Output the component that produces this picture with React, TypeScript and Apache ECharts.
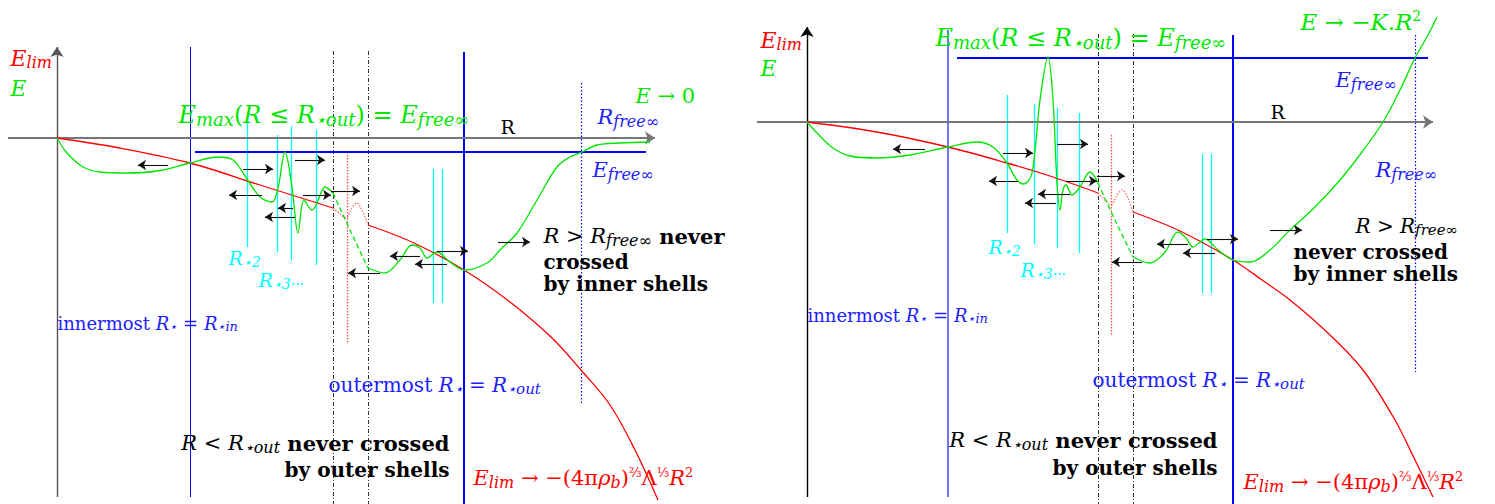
import React, { useEffect, useRef } from "react";
import * as echarts from "echarts";

// ---------- data (R, E units of the sketch; panel 0 = left, panel 1 = right) ----------
// Left panel
const L_RED_A = [[0, 0], [63, -10], [133, -25], [203, -47], [276, -70]];
const L_RED_DOT = [[276, -70], [283, -76], [289, -80], [295, -70], [300, -65], [305, -72], [311, -87]];
const L_RED_B = [[311, -87], [357, -105], [407, -132], [453, -164], [495, -200], [524, -232], [553, -267], [578, -312], [601, -362]];
const L_GREEN_A = [[0, 0], [10, -15], [26, -29], [43, -34], [70, -35], [100, -33], [133, -25], [161, -19], [176, -22], [190, -41], [203, -59], [215, -64], [221, -50], [228, -14], [235, -49], [241, -95], [247, -62], [255, -72], [260, -65], [268, -49], [276, -55]];
const L_GREEN_DASH = [[276, -55], [293, -92], [311, -130]];
const L_GREEN_B = [[311, -130], [328, -135], [343, -122], [355, -107], [363, -110], [370, -120], [380, -114], [393, -124], [407, -132], [430, -125], [443, -112], [460, -95], [480, -62], [500, -29], [513, -19], [525, -14], [540, -7], [563, -5], [593, -4]];
const L_CYAN = [[190, 18, -109], [220, 3, -114], [234, 12, -122], [259, 8, -127], [376, -31, -165], [385, -31, -165]];
const L_ARROWS = [[111, 81, -27], [186, 216, -31], [238, 268, -22], [205, 172, -57], [246, 274, -57], [274, 303, -53], [236, 221, -70], [238, 208, -79], [323, 291, -135], [363, 333, -118], [380, 411, -113], [390, 358, -126], [441, 473, -104]];
const L_R_IN = 133, L_R_OUT = 407, L_R_FREE = 524, L_E_FREE = -14;
const L_DASHDOT = [276, 311];
const L_RED_VDOT = 290;

// Right panel
const R_RED_A = [[0, 0], [70, -10], [141, -25], [200, -41], [243, -54], [291, -71]];
const R_RED_DOT = [[291, -71], [298, -78], [304, -83], [310, -73], [315, -68], [321, -76], [326, -90]];
const R_RED_B = [[326, -90], [373, -109], [426, -138], [455, -158], [483, -178], [523, -213], [556, -248], [588, -298], [608, -338], [626, -375]];
const R_GREEN_A = [[0, 0], [10, -11], [26, -26], [43, -34], [70, -36], [103, -33], [141, -25], [170, -20], [186, -25], [200, -41], [210, -58], [217, -62], [225, -51], [233, 22], [241, 65], [246, 22], [250, -61], [253, -88], [256, -68], [259, -63], [265, -73], [273, -65], [283, -50], [291, -61]];
const R_GREEN_DASH = [[291, -61], [308, -98], [326, -135]];
const R_GREEN_B = [[326, -135], [343, -141], [358, -130], [371, -110], [379, -116], [386, -125], [398, -117], [411, -128], [426, -138], [443, -140], [463, -128], [483, -108], [508, -85], [533, -58], [555, -30], [576, 0], [593, 32], [608, 64], [621, 87], [630, 105]];
const R_CYAN = [[200, 27, -111], [227, 18, -122], [250, 14, -126], [272, 9, -131], [395, -32, -171], [404, -32, -171]];
const R_ARROWS = [[118, 86, -27], [196, 226, -31], [250, 281, -22], [211, 182, -59], [259, 290, -59], [290, 318, -54], [263, 231, -72], [249, 218, -81], [335, 305, -140], [381, 350, -122], [400, 431, -117], [408, 376, -131], [463, 495, -108]];
const R_R_IN = 141, R_R_OUT = 426, R_R_FREE = 608, R_E_FREE = 64;
const R_DASHDOT = [291, 326];
const R_RED_VDOT = 304;

// ---------- texts ----------
const T_ELIM = "{m|E}{s|lim}";
const T_E = "{m|E}";
const T_EMAX = "{m|E}{s|max}{r|(}{m|R}{r| ≤ }{m|R}{s|⋆out}{r|) = }{m|E}{s|free∞}";
const T_RFREE = "{m|R}{s|free∞}";
const T_EFREE = "{m|E}{s|free∞}";
const T_R2 = "{m|R}{s|⋆2}";
const T_R3 = "{m|R}{s|⋆3···}";
const T_INNER = "{r|innermost }{m|R}{s|⋆}{r| = }{m|R}{s|⋆in}";
const T_OUTER = "{r|outermost }{m|R}{s|⋆}{r| = }{m|R}{s|⋆out}";
const T_RLT = "{m|R}{r| < }{m|R}{s|⋆out}{bf| never crossed}";
const T_BYOUT = "{bf|by outer shells}";
const T_ELIMF = "{m|E}{s|lim}{r| → −(4π}{m|ρ}{s|b}{r|)}{p|⅔}{r|Λ}{p|⅓}{m|R}{p|2}";

const RED = "#ff0000", GREEN = "#00e600", BLUE = "#0000ff", TBLUE = "#2020ff", LBLUE = "#7373ff", CYAN = "#00ffff", GRAY = "#777777";

// [panel, R, E, text, color, anchor, font size]
const TEXTS: [number, number, number, string, string, string, number][] = [
  [0, -47, 80, T_ELIM, RED, "l", 22],
  [0, -47, 50, T_E, GREEN, "l", 22],
  [0, 121, 23, T_EMAX, GREEN, "l", 24],
  [0, 578, 42, "{m|E}{r| → 0}", GREEN, "l", 21],
  [0, 540, 21, T_RFREE, TBLUE, "l", 21],
  [0, 535, -32, T_EFREE, TBLUE, "l", 21],
  [0, 443, 11, "{r|R}", "#000", "l", 19],
  [0, 171, -120, T_R2, CYAN, "l", 19],
  [0, 201, -142, T_R3, CYAN, "l", 19],
  [0, 0, -185, T_INNER, TBLUE, "l", 18],
  [0, 486, -98, "{m|R}{r| > }{m|R}{s|free∞}{bf| never}", "#000", "l", 21],
  [0, 486, -124, "{bf|crossed}", "#000", "l", 20],
  [0, 486, -146, "{bf|by inner shells}", "#000", "l", 20],
  [0, 271, -247, T_OUTER, TBLUE, "l", 20],
  [0, 393, -305, T_RLT, "#000", "r", 21],
  [0, 393, -332, T_BYOUT, "#000", "r", 20],
  [0, 416, -340, T_ELIMF, RED, "l", 21],
  [1, -47, 82, T_ELIM, RED, "l", 22],
  [1, -47, 54, T_E, GREEN, "l", 22],
  [1, 128, 84, T_EMAX, GREEN, "l", 24],
  [1, 493, 100, "{m|E}{r| → −}{m|K.R}{p|2}", GREEN, "l", 23],
  [1, 528, 42, T_EFREE, TBLUE, "l", 21],
  [1, 568, -48, T_RFREE, TBLUE, "l", 21],
  [1, 463, 10, "{r|R}", "#000", "l", 19],
  [1, 181, -125, T_R2, CYAN, "l", 19],
  [1, 213, -148, T_R3, CYAN, "l", 19],
  [1, 0, -193, T_INNER, TBLUE, "l", 18],
  [1, 548, -104, "{m|R}{r| > }{m|R}{s|free∞}", "#000", "l", 20],
  [1, 486, -130, "{bf|never crossed}", "#000", "l", 20],
  [1, 486, -152, "{bf|by inner shells}", "#000", "l", 20],
  [1, 285, -258, T_OUTER, TBLUE, "l", 20],
  [1, 411, -318, T_RLT, "#000", "r", 21],
  [1, 411, -346, T_BYOUT, "#000", "r", 20],
  [1, 436, -360, T_ELIMF, RED, "l", 21],
];

const SERIF = "'DejaVu Serif', 'Liberation Serif', serif";
function rich(color: string, fs: number) {
  const lh = Math.round(fs * 1.12);
  const sub = Math.round(fs * 0.74);
  const sup = Math.round(fs * 0.6);
  return {
    m: { fontFamily: SERIF, fontStyle: "italic", fontSize: fs, lineHeight: lh, color },
    r: { fontFamily: SERIF, fontSize: fs, lineHeight: lh, color },
    bf: { fontFamily: SERIF, fontWeight: "bold", fontSize: fs, lineHeight: lh, color },
    s: { fontFamily: SERIF, fontStyle: "italic", fontSize: sub, lineHeight: sub, verticalAlign: "bottom", color },
    p: { fontFamily: SERIF, fontSize: sup, lineHeight: sup, verticalAlign: "top", color },
  };
}

function curve(panel: number, data: number[][], color: string, type: any = "solid", width = 1.3, opacity = 1) {
  return {
    type: "line", xAxisIndex: panel, yAxisIndex: panel, data, showSymbol: false, symbol: "none",
    smooth: 0.35, silent: true, lineStyle: { color, width, type, opacity }, z: 3,
  };
}

function buildPanel(p: number, cfg: any) {
  const segs: any[] = [];
  const v = (r: number, a: number, b: number, ls: any) => segs.push({ coords: [[r, a], [r, b]], lineStyle: { opacity: 1, ...ls } });
  cfg.cyan.forEach(([r, a, b]: number[]) => v(r, a, b, { color: CYAN, width: 1.3 }));
  cfg.dashdot.forEach((r: number) => v(r, cfg.top - 4, cfg.bottom, { color: "#000", width: 0.8, type: [4, 2, 1, 2] }));
  v(cfg.redV, cfg.redVtop, cfg.redVbot, { color: RED, width: 1.3, type: [1.5, 1.5], opacity: 0.7 });
  v(cfg.rin, cfg.top, cfg.bottom + 7, cfg.inStyle);
  v(cfg.rout, cfg.top - 5, cfg.bottom, { color: BLUE, width: 2 });
  v(cfg.rfree, cfg.freeTop, cfg.freeBot, { color: BLUE, width: 1.2, type: [1.5, 2] });
  segs.push({ coords: [[cfg.hStart, cfg.efree], [cfg.hEnd, cfg.efree]], lineStyle: { color: BLUE, width: 2.2, opacity: 1 } });

  const arrows = cfg.arrows.map(([a, b, e]: number[]) => ({ coords: [[a, e], [b, e]] }));
  const axes = [
    { coords: [[0, cfg.bottom + 7], [0, cfg.yTop]], lineStyle: { color: cfg.yColor, width: 1.4, opacity: 1 } },
    { coords: [[cfg.xStart, 0], [cfg.xEnd, 0]], lineStyle: { color: GRAY, width: 2, opacity: 1 } },
  ];
  const labels = TEXTS.filter((t) => t[0] === p).map(([, r, e, txt, color, anchor, fs]) => ({
    value: [r, e],
    label: {
      show: true, position: anchor === "l" ? "right" : "left", distance: 0,
      formatter: () => txt, rich: rich(color, fs), color, opacity: 1,
    },
  }));
  return [
    { type: "lines", coordinateSystem: "cartesian2d", xAxisIndex: p, yAxisIndex: p, data: segs, symbol: "none", silent: true, z: 2 },
    { type: "lines", coordinateSystem: "cartesian2d", xAxisIndex: p, yAxisIndex: p, data: axes, symbol: ["none", "arrow"], symbolSize: 10, silent: true, z: 2 },
    { type: "lines", coordinateSystem: "cartesian2d", xAxisIndex: p, yAxisIndex: p, data: arrows, symbol: ["none", "arrow"], symbolSize: 8, lineStyle: { color: "#111", width: 1.1, opacity: 1 }, silent: true, z: 4 },
    curve(p, cfg.redA, RED), curve(p, cfg.redB, RED),
    curve(p, cfg.redDot, RED, [1.5, 1.5], 1.2, 0.6),
    curve(p, cfg.greenA, GREEN), curve(p, cfg.greenDash, GREEN, [5, 3]), curve(p, cfg.greenB, GREEN),
    { type: "scatter", xAxisIndex: p, yAxisIndex: p, data: labels, symbolSize: 1, itemStyle: { color: "rgba(0,0,0,0)", opacity: 1 }, silent: true, z: 5 },
  ];
}

const LEFT = {
  cyan: L_CYAN, dashdot: L_DASHDOT, redV: L_RED_VDOT, redVtop: -14, redVbot: -205, rin: L_R_IN, rout: L_R_OUT,
  rfree: L_R_FREE, freeTop: 55, freeBot: -267, efree: L_E_FREE, hStart: 138, hEnd: 589, top: 91, bottom: -366,
  inStyle: { color: BLUE, width: 1 }, arrows: L_ARROWS, yTop: 91, yColor: "#555", xStart: -49, xEnd: 598,
  redA: L_RED_A, redB: L_RED_B, redDot: L_RED_DOT, greenA: L_GREEN_A, greenDash: L_GREEN_DASH, greenB: L_GREEN_B,
};
const RIGHT = {
  cyan: R_CYAN, dashdot: R_DASHDOT, redV: R_RED_VDOT, redVtop: -13, redVbot: -213, rin: R_R_IN, rout: R_R_OUT,
  rfree: R_R_FREE, freeTop: 87, freeBot: -250, efree: R_E_FREE, hStart: 150, hEnd: 621, top: 92, bottom: -382,
  inStyle: { color: LBLUE, width: 2 }, arrows: R_ARROWS, yTop: 95, yColor: "#000", xStart: -50, xEnd: 626,
  redA: R_RED_A, redB: R_RED_B, redDot: R_RED_DOT, greenA: R_GREEN_A, greenDash: R_GREEN_DASH, greenB: R_GREEN_B,
};

export default function App() {
  const ref = useRef<HTMLDivElement>(null);
  useEffect(() => {
    if (!ref.current) return;
    const chart = echarts.init(ref.current, null, { renderer: "svg" });
    chart.setOption({
      animation: false,
      backgroundColor: "#ffffff",
      grid: [
        { left: 0, top: 0, width: 748, height: 504 },
        { left: 748, top: 0, width: 747, height: 504 },
      ],
      xAxis: [
        { type: "value", gridIndex: 0, min: -57, max: 691, show: false },
        { type: "value", gridIndex: 1, min: -59, max: 688, show: false },
      ],
      yAxis: [
        { type: "value", gridIndex: 0, min: -366, max: 138, show: false },
        { type: "value", gridIndex: 1, min: -382, max: 122, show: false },
      ],
      series: [...buildPanel(0, LEFT), ...buildPanel(1, RIGHT)],
    });
    return () => chart.dispose();
  }, []);
  return <div ref={ref} style={{ position: "absolute", left: 0, top: 0, width: 1495, height: 504, background: "#fff" }} />;
}
